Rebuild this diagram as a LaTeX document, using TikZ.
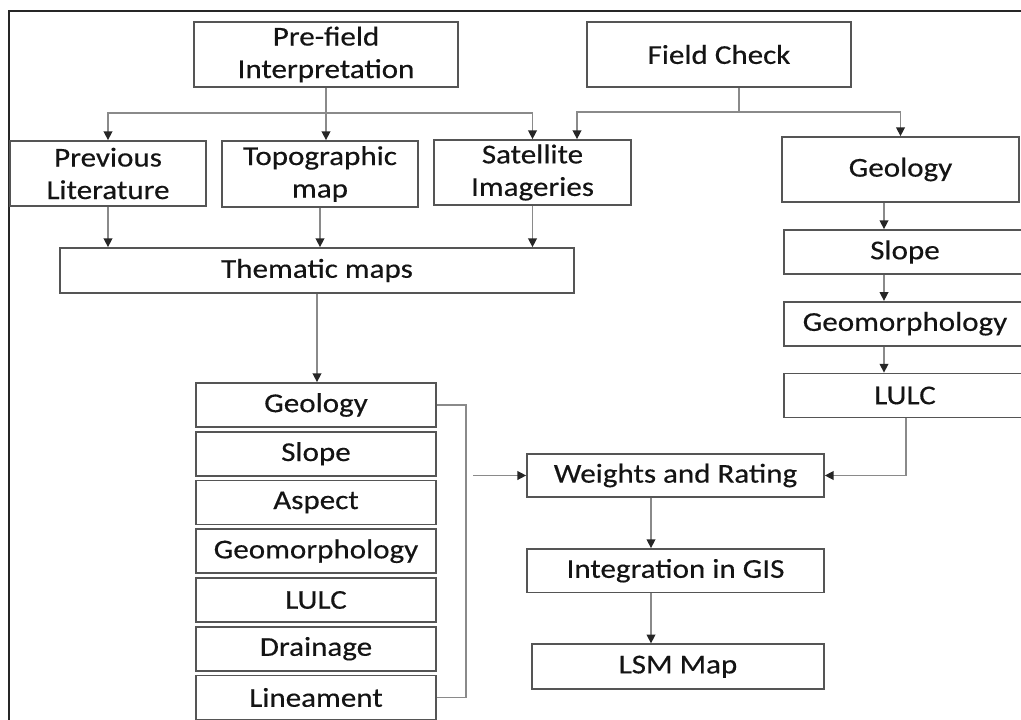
\documentclass[tikz,border=0pt]{standalone}
\usepackage{fontspec}
\setmainfont{Carlito}[FakeStretch=1.14,FakeBold=0.4]
\usetikzlibrary{arrows.meta,positioning}

\definecolor{boxgray}{HTML}{555555}
\definecolor{linegray}{HTML}{8A8A8A}

\tikzset{
  box/.style={draw=boxgray, line width=1pt, inner sep=0pt, align=center,
    text=black!92, font=\fontsize{15.5}{18.5}\selectfont},
  layer/.style={box, minimum width=4.8cm, minimum height=0.88cm},
  rlayer/.style={box, minimum width=4.84cm, minimum height=0.88cm},
  flow/.style={box, minimum width=5.94cm, minimum height=0.87cm},
  link/.style={draw=linegray, line width=0.8pt},
  arr/.style={link, -{Triangle[length=5pt,width=5pt,color=black!85]}},
}

\begin{document}
\begin{tikzpicture}[x=0.02cm,y=-0.02cm]
  \useasboundingbox (0,0) rectangle (1021,720);
  \clip (0,0) rectangle (1021,720);
  \draw[line width=1pt, black!85] (9,720) -- (9,11) -- (1021,11);

  % top row
  \node[box, minimum width=5.28cm, minimum height=1.3cm]  (pre)   at (326,54.5)   {Pre-field\\Interpretation};
  \node[box, minimum width=5.28cm, minimum height=1.3cm]  (field) at (719,54.5)   {Field Check};
  \node[box, minimum width=3.92cm, minimum height=1.3cm]  (prev)  at (108,173.5)  {Previous\\Literature};
  \node[box, minimum width=3.92cm, minimum height=1.32cm] (topo)  at (320,174)    {Topographic\\map};
  \node[box, minimum width=3.94cm, minimum height=1.3cm]  (sat)   at (532.5,172.5) {Satellite\\Imageries};
  \node[box, minimum width=10.28cm, minimum height=0.9cm] (them)  at (317,270.5)  {Thematic maps};

  % thematic layers
  \node[layer] (geo)      at (316,405)         {Geology};
  \node[layer] (slope)    [below=0.06cm of geo]      {Slope};
  \node[layer] (aspect)   [below=0.06cm of slope]    {Aspect};
  \node[layer] (geomorph) [below=0.06cm of aspect]   {Geomorphology};
  \node[layer] (lulc)     [below=0.06cm of geomorph] {LULC};
  \node[layer] (drain)    [below=0.06cm of lulc]     {Drainage};
  \node[layer] (lin)      [below=0.06cm of drain]    {Lineament};

  % field check column
  \node[box, minimum width=4.74cm, minimum height=1.3cm] (rgeo) at (900.5,169.5) {Geology};
  \node[rlayer] (rslope)    at (905,252)                 {Slope};
  \node[rlayer] (rgeomorph) [below=0.52cm of rslope]     {Geomorphology};
  \node[rlayer] (rlulc)     [below=0.52cm of rgeomorph]  {LULC};

  % analysis
  \node[flow] (wr)  at (675.5,475.5)        {Weights and Rating};
  \node[flow] (gis) [below=1.0cm of wr]     {Integration in GIS};
  \node[flow, minimum width=5.84cm, minimum height=0.9cm] (lsm) [below=1.0cm of gis, xshift=0.05cm] {LSM Map};

  % pre-field branches
  \coordinate (psplit) at (326,113);
  \draw[arr] (pre.south) -- (pre.south |- topo.north);
  \draw[arr] (psplit) -| (prev.north);
  \draw[arr] (psplit) -| (sat.north);

  % field check branches
  \coordinate (fsplit) at (739,112);
  \coordinate (satin) at (577,0 |- sat.north);
  \draw[link] (fsplit |- field.south) -- (fsplit);
  \draw[arr] (fsplit) -| (satin);
  \draw[arr] (fsplit) -| (rgeo.north);

  % into thematic maps
  \foreach \n in {prev,topo,sat}
    \draw[arr] (\n.south) -- (\n.south |- them.north);
  \draw[arr] (them.south) -- (them.south |- geo.north);

  % field check column
  \foreach \a/\b in {rgeo/rslope,rslope/rgeomorph,rgeomorph/rlulc}
    \draw[arr] (884,0 |- \a.south) -- (884,0 |- \b.north);
  \draw[arr] (906,0 |- rlulc.south) |- (wr.east);

  % layers to weights
  \coordinate (brk) at (466,0 |- lin.east);
  \coordinate (wrin) at (473,0 |- wr.west);
  \draw[link] (geo.east) -| (brk) -- (lin.east);
  \draw[arr] (wrin) -- (wr.west);
  \draw[arr] (651,0 |- wr.south) -- (651,0 |- gis.north);
  \draw[arr] (651,0 |- gis.south) -- (651,0 |- lsm.north);
\end{tikzpicture}
\end{document}
